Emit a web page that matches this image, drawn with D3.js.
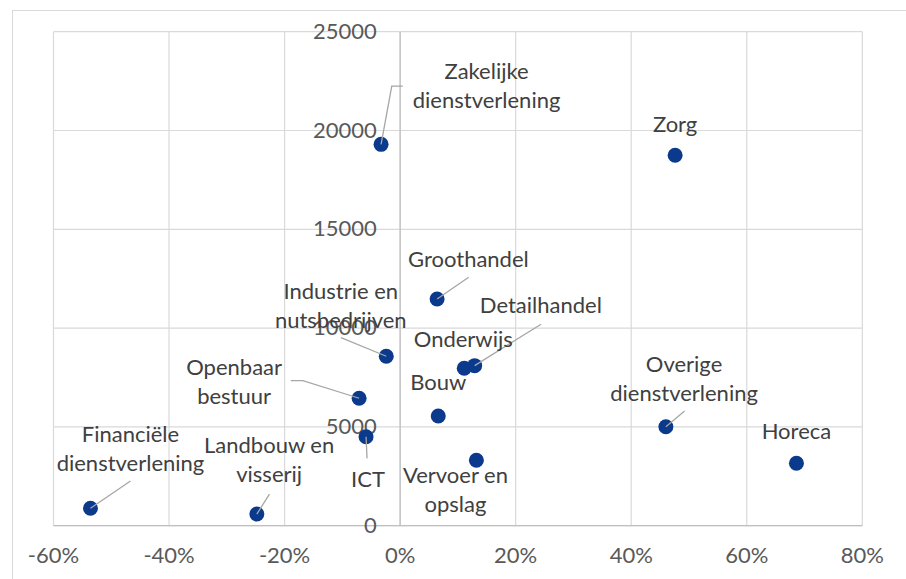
<!DOCTYPE html>
<html>
<head>
<meta charset="utf-8">
<script src="https://cdn.jsdelivr.net/npm/d3@7"></script>
<style>
  body { margin: 0; background: #fff; }
  svg { display: block; font-family: Lato, "Open Sans", sans-serif; }
</style>
</head>
<body>
<svg id="chart" width="906" height="579"></svg>
<script>
// Data
const sectors = ['Zakelijke dienstverlening', 'Zorg', 'Industrie en nutsbedrijven', 'Groothandel',
  'Openbaar bestuur', 'Bouw', 'ICT', 'Financiële dienstverlening', 'Landbouw en visserij',
  'Onderwijs', 'Detailhandel', 'Vervoer en opslag', 'Overige dienstverlening', 'Horeca'];
const growth = [-0.033, 0.476, -0.024, 0.064, -0.071, 0.066, -0.059, -0.536, -0.248, 0.111, 0.129, 0.132, 0.460, 0.686];
const vacancies = [19300, 18750, 8575, 11475, 6450, 5550, 4500, 880, 590, 7970, 8100, 3310, 5010, 3160];
const labelLines = [
  ['Zakelijke', 'dienstverlening'], ['Zorg'], ['Industrie en', 'nutsbedrijven'], ['Groothandel'],
  ['Openbaar', 'bestuur'], ['Bouw'], ['ICT'], ['Financiële', 'dienstverlening'], ['Landbouw en', 'visserij'],
  ['Onderwijs'], ['Detailhandel'], ['Vervoer en', 'opslag'], ['Overige', 'dienstverlening'], ['Horeca']
];
const xTicks = [-0.6, -0.4, -0.2, 0, 0.2, 0.4, 0.6, 0.8];
const yTicks = [0, 5000, 10000, 15000, 20000, 25000];

// Label placement relative to the point (layout, px)
const labelOffset = [
  [105.5, -65.5], [0, -23.3], [-45.5, -57], [31.3, -32.3], [-125, -23.3], [0, -25.7], [2, 50],
  [40, -66.6], [12.3, -60.7], [-1, -21.6], [66.2, -52.4], [-20.9, 23], [18.2, -54.4], [0, -24.3]
];
const leaderPts = [
  [[10.7, -58.3], [21.7, -58.3]], null, [[-45.3, -18.6]], [[31.6, -21.7]],
  [[-56.3, -17.6], [-68.3, -17.6]], null, [[1, 21.6]], [[40, -27.3]], [[12.6, -20]],
  null, [[66.4, -41.4]], null, [[18.7, -15.7]], null
];

const svg = d3.select('#chart');
const plotLeft = 53.5, plotRight = 862.3, plotTop = 31.7, plotBottom = 525.7;
const lineH = 29;
const fontSize = 22;

const x = d3.scaleLinear().domain([-0.6, 0.8]).range([plotLeft, plotRight]);
const y = d3.scaleLinear().domain([0, 25000]).range([plotBottom, plotTop]);

// Outer chart border
svg.append('rect')
  .attr('x', 12.5).attr('y', 10.5)
  .attr('width', 920).attr('height', 600)
  .attr('fill', 'none').attr('stroke', '#d9d9d9').attr('stroke-width', 1);

// Gridlines
svg.append('g').selectAll('line').data(xTicks).enter().append('line')
  .attr('x1', d => x(d)).attr('x2', d => x(d))
  .attr('y1', plotTop).attr('y2', plotBottom)
  .attr('stroke', '#d9d9d9').attr('stroke-width', 1.2);
svg.append('g').selectAll('line').data(yTicks).enter().append('line')
  .attr('x1', plotLeft).attr('x2', plotRight)
  .attr('y1', d => y(d)).attr('y2', d => y(d))
  .attr('stroke', '#d9d9d9').attr('stroke-width', 1.2);

// Axis lines
svg.append('line')
  .attr('x1', x(0)).attr('x2', x(0)).attr('y1', plotTop).attr('y2', plotBottom)
  .attr('stroke', '#bfbfbf').attr('stroke-width', 1.2);
svg.append('line')
  .attr('x1', plotLeft).attr('x2', plotRight).attr('y1', plotBottom).attr('y2', plotBottom)
  .attr('stroke', '#bfbfbf').attr('stroke-width', 1.2);

// Tick labels
const pct = d3.format('.0%');
svg.append('g').selectAll('text').data(xTicks).enter().append('text')
  .attr('x', d => x(d)).attr('y', plotBottom + 37.6)
  .attr('text-anchor', 'middle')
  .attr('font-size', fontSize).attr('fill', '#595959')
  .text(d => pct(d).replace('−', '-'));
svg.append('g').selectAll('text').data(yTicks).enter().append('text')
  .attr('x', x(0) - 23.3).attr('y', d => y(d) + 7)
  .attr('text-anchor', 'end')
  .attr('font-size', fontSize).attr('fill', '#595959')
  .text(d => d);

// Points
const pts = sectors.map((s, i) => ({ name: s, px: x(growth[i]), py: y(vacancies[i]), i }));

svg.append('g').selectAll('circle').data(pts).enter().append('circle')
  .attr('cx', d => d.px).attr('cy', d => d.py).attr('r', 7.5)
  .attr('fill', '#0b3a8c');

// Leader lines
const lineGen = d3.line();
svg.append('g').selectAll('path').data(pts.filter(d => leaderPts[d.i])).enter().append('path')
  .attr('d', d => lineGen([[d.px, d.py]].concat(leaderPts[d.i].map(p => [d.px + p[0], d.py + p[1]]))))
  .attr('fill', 'none').attr('stroke', '#a6a6a6').attr('stroke-width', 1.3);

// Data labels
const labels = svg.append('g').selectAll('text').data(pts).enter().append('text')
  .attr('text-anchor', 'middle')
  .attr('font-size', fontSize).attr('fill', '#404040');
labels.each(function(d) {
  const t = d3.select(this);
  labelLines[d.i].forEach((ln, k) => {
    t.append('tspan')
      .attr('x', d.px + labelOffset[d.i][0])
      .attr('y', d.py + labelOffset[d.i][1] + k * lineH)
      .text(ln);
  });
});
</script>
</body>
</html>
